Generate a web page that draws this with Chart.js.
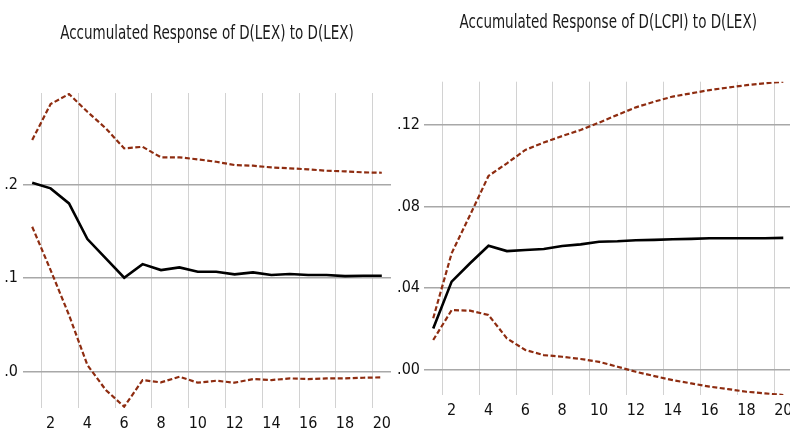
<!DOCTYPE html>
<html><head><meta charset="utf-8">
<script src="https://cdn.jsdelivr.net/npm/chart.js@4/dist/chart.umd.min.js"></script>
<style>
html,body{margin:0;padding:0;background:#fff;overflow:hidden;width:790px;height:430px}
.box{position:absolute;top:0;height:430px}
#b1{left:0;width:395px}
#b2{left:395px;width:400px}
</style></head><body>
<div class="box" id="b1"><canvas id="c1"></canvas></div>
<div class="box" id="b2"><canvas id="c2"></canvas></div>
<script>
const periods = ['1','2','3','4','5','6','7','8','9','10','11','12','13','14','15','16','17','18','19','20'];

const lexTitle = 'Accumulated Response of D(LEX) to D(LEX)';
const lexResp  = [0.2017,0.1957,0.1797,0.1416,0.1210,0.1003,0.1149,0.1085,0.1114,0.1067,0.1067,0.1039,0.1060,0.1032,0.1043,0.1032,0.1032,0.1021,0.1025,0.1025];
const lexUpper = [0.2473,0.2857,0.2964,0.2775,0.2598,0.2384,0.2401,0.2288,0.2288,0.2267,0.2241,0.2206,0.2199,0.2181,0.2171,0.2160,0.2145,0.2139,0.2128,0.2124];
const lexLower = [0.1548,0.1085,0.0605,0.0071,-0.0195,-0.0373,-0.0089,-0.0114,-0.0053,-0.0117,-0.0096,-0.0117,-0.0078,-0.0089,-0.0071,-0.0078,-0.0071,-0.0071,-0.0064,-0.0060];
const lexTicks = [0, 0.1, 0.2];
const lexTickLabels = ['.0', '.1', '.2'];
const lexRange = [-0.0387, 0.2975];

const cpiTitle = 'Accumulated Response of D(LCPI) to D(LEX)';
const cpiResp  = [0.0201,0.0431,0.0521,0.0607,0.0581,0.0586,0.0591,0.0606,0.0614,0.0627,0.0629,0.0634,0.0636,0.0639,0.0641,0.0644,0.0644,0.0644,0.0644,0.0646];
const cpiUpper = [0.0251,0.0570,0.0758,0.0950,0.1012,0.1078,0.1114,0.1146,0.1176,0.1212,0.1250,0.1287,0.1315,0.1340,0.1356,0.1372,0.1384,0.1396,0.1405,0.1413];
const cpiLower = [0.0144,0.0291,0.0288,0.0267,0.0152,0.0095,0.0070,0.0062,0.0051,0.0037,0.0013,-0.0012,-0.0033,-0.0053,-0.0069,-0.0085,-0.0097,-0.0110,-0.0118,-0.0126];
const cpiTicks = [0, 0.04, 0.08, 0.12];
const cpiTickLabels = ['.00', '.04', '.08', '.12'];
const cpiRange = [-0.0126, 0.1413];

const FONT = '"Liberation Sans Narrow", "DejaVu Sans Condensed", "Roboto Condensed", "Open Sans", sans-serif';
const BAND = '#8e2c10';

// Title drawn slightly condensed, centred over the plot area
const condensedTitle = {
  id: 'condensedTitle',
  afterDraw(chart, args, o) {
    const {ctx, chartArea} = chart;
    ctx.save();
    ctx.font = o.size + 'px ' + FONT;
    ctx.fillStyle = o.color;
    ctx.textAlign = 'center';
    ctx.textBaseline = 'middle';
    ctx.translate((chartArea.left + chartArea.right) / 2, o.y);
    ctx.scale(o.scaleX, 1);
    ctx.fillText(o.text, 0, 0);
    ctx.restore();
  }
};

function makeChart(id, title, mid, up, lo, ticks, tickLabels, range, g) {
  return new Chart(document.getElementById(id), {
    type: 'line',
    data: {
      labels: periods,
      datasets: [
        {data: mid, borderColor: '#000', borderWidth: 2.6, pointRadius: 0, tension: 0},
        {data: up, borderColor: BAND, borderWidth: 2.2, borderDash: [5, 2.5], pointRadius: 0, tension: 0},
        {data: lo, borderColor: BAND, borderWidth: 2.2, borderDash: [5, 2.5], pointRadius: 0, tension: 0}
      ]
    },
    plugins: [condensedTitle],
    options: {
      responsive: true, maintainAspectRatio: false, animation: false,
      layout: {padding: {left: 0, right: g.right, top: g.top, bottom: g.bottom}},
      plugins: {
        legend: {display: false}, tooltip: {enabled: false}, title: {display: false},
        condensedTitle: {text: title, size: 19, scaleX: 0.79, color: '#1a1a1a', y: g.titleY}
      },
      scales: {
        x: {
          type: 'category', offset: true,
          border: {display: false},
          grid: {offset: true, drawTicks: false, lineWidth: 1,
            color: c => (c.index % 2 === 1 ? '#d2d2d2' : 'rgba(0,0,0,0)')},
          ticks: {autoSkip: false, maxRotation: 0, padding: 6, color: '#111',
            font: {family: FONT, size: 16},
            callback: (v, i) => (i % 2 === 1 ? periods[i] : '')},
          afterFit: s => { s.height = 22; s.paddingLeft = 0; s.paddingRight = 0; }
        },
        y: {
          type: 'linear', min: range[0], max: range[1],
          border: {display: false},
          grid: {drawTicks: false, color: '#a8a8a8', lineWidth: 1.5},
          afterBuildTicks: s => { s.ticks = ticks.map(v => ({value: v})); },
          ticks: {padding: g.yPad, color: '#111', font: {family: FONT, size: 16},
            callback: v => { const i = ticks.findIndex(t => Math.abs(t - v) < 1e-9); return i >= 0 ? tickLabels[i] : ''; }},
          afterFit: s => { s.width = g.yWidth; s.paddingTop = 0; s.paddingBottom = 0; }
        }
      }
    }
  });
}

makeChart('c1', lexTitle, lexResp, lexUpper, lexLower, lexTicks, lexTickLabels, lexRange,
  {right: 4, bottom: 0, top: 93, titleY: 34, yPad: 5, yWidth: 23});
makeChart('c2', cpiTitle, cpiResp, cpiUpper, cpiLower, cpiTicks, cpiTickLabels, cpiRange,
  {right: 2.5, bottom: 13, top: 81.7, titleY: 23, yPad: 4, yWidth: 29});
</script>
</body></html>
